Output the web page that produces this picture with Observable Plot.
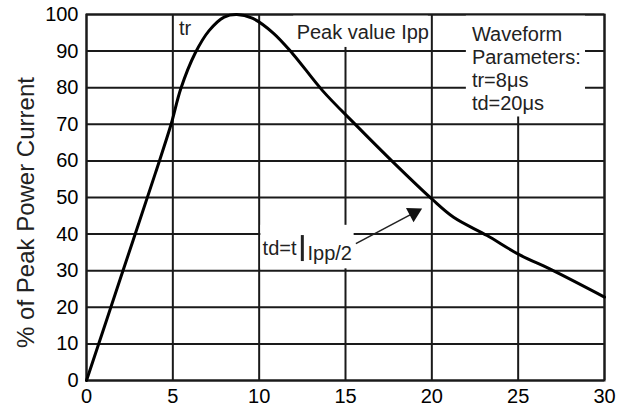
<!DOCTYPE html>
<html>
<head>
<meta charset="utf-8">
<script src="https://cdn.jsdelivr.net/npm/d3@7"></script>
<script src="https://cdn.jsdelivr.net/npm/@observablehq/plot@0.6"></script>
<style>
  html, body { margin: 0; padding: 0; background: #fff; overflow: hidden; }
  #chart svg { display: block; }
</style>
</head>
<body>
<div id="chart"></div>
<script>
// ---- data ----
const xTicks = [0, 5, 10, 15, 20, 25, 30];
const yTicks = [0, 10, 20, 30, 40, 50, 60, 70, 80, 90, 100];

// waveform curve (time in µs, % of peak)
const timeUs = [0, 2.0, 4.0, 4.9, 5.46, 6.29, 7.1, 7.97, 8.7, 9.6, 10.8, 11.94, 13.67, 15.58, 17.77, 20.0, 21.26, 23.2, 25.06, 27.0, 30.0];
const pctPeak = [0, 28.4, 56.8, 70.0, 79.7, 89.4, 95.6, 99.3, 100, 99.0, 95.0, 89.3, 79.2, 69.9, 59.6, 49.6, 44.6, 39.6, 34.4, 30.1, 22.8];

// annotation texts
const noteText = ["tr", "Peak value Ipp", "Waveform\nParameters:\ntr=8μs\ntd=20μs", "td=t", "Ipp/2"];
const noteX    = [5.35, 12.17, 22.32, 10.2, 12.8];
const noteY    = [94.5, 93.2, 73.8, 34.4, 32.8];

// white label backgrounds that break the grid
const boxX1 = [12.0, 22.0, 10.1];
const boxX2 = [19.8, 28.9, 15.5];
const boxY1 = [91.0, 72.0, 30.5];
const boxY2 = [100, 100, 42.4];

// "|" bar and arrow
const barX = [12.5], barY1 = [32.5], barY2 = [39.6];
const arrowX1 = [15.6], arrowY1 = [37.4], arrowX2 = [18.96], arrowY2 = [45.8];

const curve = timeUs.map((t, i) => ({t, p: pctPeak[i]}));
const notes = noteText.map((s, i) => ({s, x: noteX[i], y: noteY[i]}));
const boxes = boxX1.map((x1, i) => ({x1, x2: boxX2[i], y1: boxY1[i], y2: boxY2[i]}));
const arrows = arrowX1.map((x1, i) => ({x1, y1: arrowY1[i], x2: arrowX2[i], y2: arrowY2[i]}));
const bars = barX.map((x, i) => ({x, y1: barY1[i], y2: barY2[i]}));

const ink = "#1a1a1a";
const chart = Plot.plot({
  width: 630,
  height: 408,
  marginLeft: 86,
  marginRight: 26,
  marginTop: 14,
  marginBottom: 28,
  style: {fontFamily: "'Liberation Sans', Arial, sans-serif", fontSize: "20px", color: "#000", background: "#fff"},
  x: {domain: [0, 30], ticks: xTicks, tickSize: 0, tickPadding: 8, label: null},
  y: {domain: [0, 100], ticks: yTicks, tickSize: 0, tickPadding: 8, label: null},
  marks: [
    Plot.ruleX(xTicks, {stroke: ink, strokeWidth: 2}),
    Plot.ruleY(yTicks, {stroke: ink, strokeWidth: 2}),
    Plot.rect(boxes, {x1: "x1", x2: "x2", y1: "y1", y2: "y2", fill: "white"}),
    Plot.frame({stroke: ink, strokeWidth: 2}),
    Plot.line(curve, {x: "t", y: "p", stroke: "#000", strokeWidth: 3, curve: "catmull-rom"}),
    Plot.text(notes, {x: "x", y: "y", text: "s", textAnchor: "start", lineAnchor: "bottom", lineHeight: 1.16, fontSize: 20, fill: "#222"}),
    Plot.ruleX(bars, {x: "x", y1: "y1", y2: "y2", stroke: "#222", strokeWidth: 3}),
    Plot.link(arrows, {x1: "x1", y1: "y1", x2: "x2", y2: "y2", stroke: "#222", strokeWidth: 1.6}),
    Plot.dot(arrows, {x: "x2", y: "y2", symbol: "triangle", r: 6, fill: "#111", stroke: "none", rotate: 62}),
    Plot.text(["% of Peak Power Current"], {frameAnchor: "left", dx: -60, dy: 15, rotate: -90, fontSize: 24, fill: "#222", textAnchor: "middle", lineAnchor: "middle"})
  ]
});
document.getElementById("chart").appendChild(chart);
</script>
</body>
</html>
